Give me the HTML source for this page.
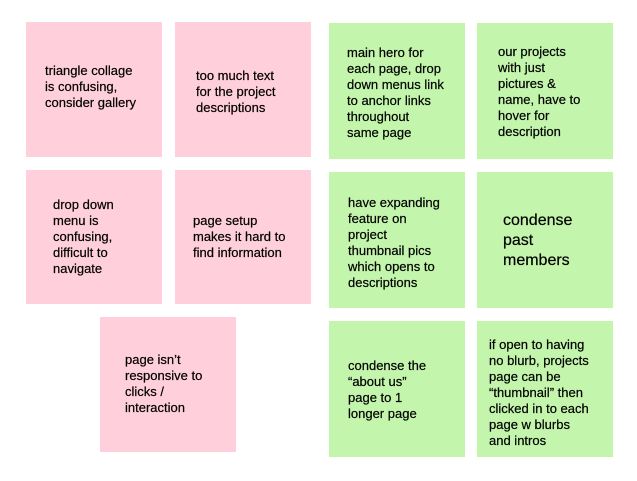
<!DOCTYPE html>
<html><head><meta charset="utf-8"><style>
html,body{margin:0;padding:0;background:#fff;}
body{width:637px;height:481px;position:relative;overflow:hidden;font-family:"Liberation Sans",sans-serif;}
.n{position:absolute;}
.p{background:#ffd0db;}
.g{background:#c3f5ac;}
.t{position:absolute;font-size:13px;line-height:16px;color:#000;white-space:nowrap;-webkit-text-stroke:0.2px #000;}
</style></head><body>
<div class="n p" style="left:26px;top:22px;width:136px;height:135px"></div>
<div class="n p" style="left:175px;top:22px;width:136px;height:135px"></div>
<div class="n p" style="left:26px;top:170px;width:136px;height:134px"></div>
<div class="n p" style="left:175px;top:170px;width:136px;height:134px"></div>
<div class="n p" style="left:100px;top:317px;width:136px;height:135px"></div>
<div class="n g" style="left:329px;top:23px;width:136px;height:136px"></div>
<div class="n g" style="left:477px;top:23px;width:136px;height:136px"></div>
<div class="n g" style="left:329px;top:172px;width:136px;height:136px"></div>
<div class="n g" style="left:477px;top:172px;width:136px;height:136px"></div>
<div class="n g" style="left:329px;top:321px;width:136px;height:136px"></div>
<div class="n g" style="left:477px;top:321px;width:136px;height:136px"></div>

<div class="t" style="left:45px;top:63px">triangle collage<br>is confusing,<br>consider gallery</div>
<div class="t" style="left:196px;top:68px">too much text<br>for the project<br>descriptions</div>
<div class="t" style="left:347px;top:45px">main hero for<br>each page, drop<br>down menus link<br>to anchor links<br>throughout<br>same page</div>
<div class="t" style="left:498px;top:44px">our projects<br>with just<br>pictures &amp;<br>name, have to<br>hover for<br>description</div>
<div class="t" style="left:53px;top:197px">drop down<br>menu is<br>confusing,<br>difficult to<br>navigate</div>
<div class="t" style="left:193px;top:213px">page setup<br>makes it hard to<br>find information</div>
<div class="t" style="left:348px;top:195px">have expanding<br>feature on<br>project<br>thumbnail pics<br>which opens to<br>descriptions</div>
<div class="t" style="left:503px;top:211px;font-size:16px;line-height:20px">condense<br>past<br>members</div>
<div class="t" style="left:125px;top:352px">page isn’t<br>responsive to<br>clicks /<br>interaction</div>
<div class="t" style="left:348px;top:358px">condense the<br>“about us”<br>page to 1<br>longer page</div>
<div class="t" style="left:489px;top:337px">if open to having<br>no blurb, projects<br>page can be<br>“thumbnail” then<br>clicked in to each<br>page w blurbs<br>and intros</div>
</body></html>
